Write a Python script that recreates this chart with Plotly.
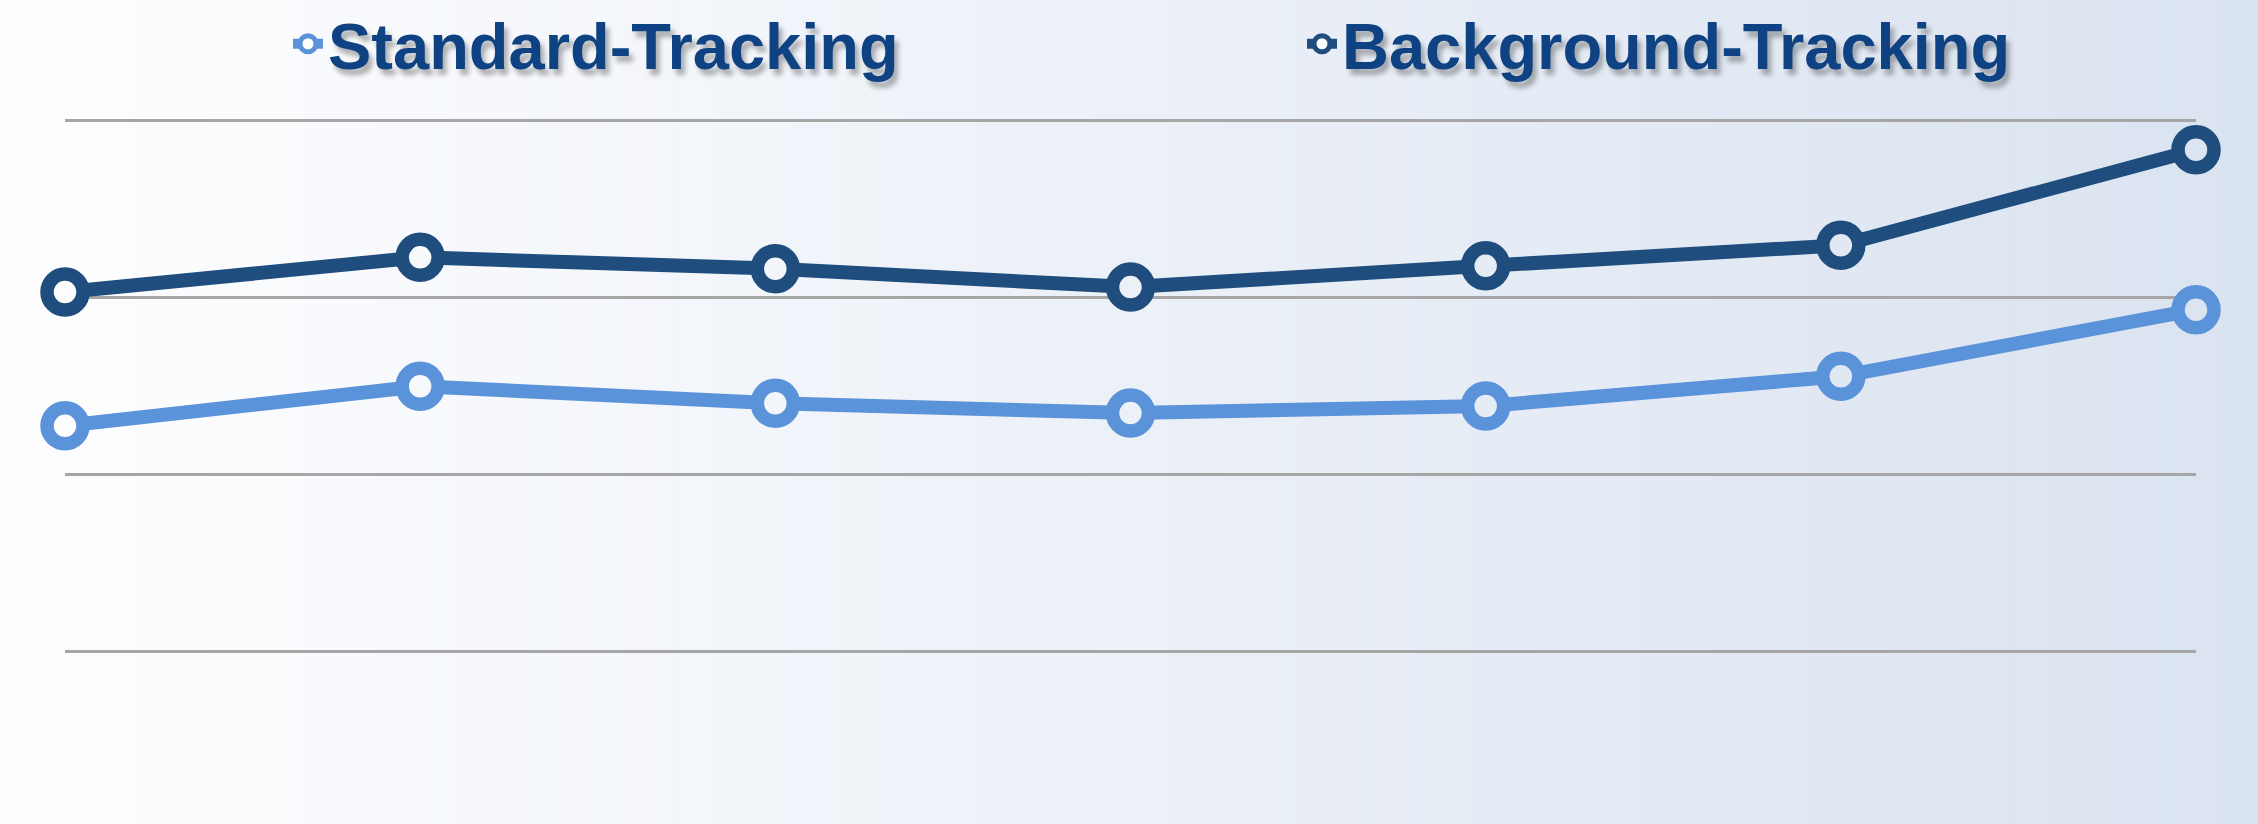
import plotly.graph_objects as go

# ---- data ----
categories = ["1", "2", "3", "4", "5", "6", "7"]
standard_tracking = [56.8, 62.4, 60.0, 58.6, 59.6, 63.8, 73.2]
background_tracking = [75.7, 80.6, 79.0, 76.4, 79.4, 82.3, 95.8]
series_names = ["Standard-Tracking", "Background-Tracking"]

W, H = 2258, 824
ML, MR, MT, MB = 65, 62, 110, 0
PXU = 7.08  # pixels per value unit
PW = W - ML - MR

LIGHT = "#5A93D9"
DARK = "#1F4E7E"
TEXT = "#0E4282"

c0 = (254, 254, 255)
c1 = (218, 227, 240)


def grad(t):
    t = max(0.0, min(1.0, t))
    return "rgb(%d,%d,%d)" % tuple(round(a + (b - a) * t) for a, b in zip(c0, c1))


def fill_for_index(i):
    px = ML + PW * i / (len(categories) - 1)
    return grad(px / W)


fills = [fill_for_index(i) for i in range(len(categories))]

fig = go.Figure()
for name, vals, col, lg in [(series_names[0], standard_tracking, LIGHT, "legend"),
                            (series_names[1], background_tracking, DARK, "legend2")]:
    fig.add_trace(go.Scatter(
        x=categories, y=vals, name=name, mode="lines+markers",
        line=dict(color=col, width=14),
        marker=dict(symbol="circle", size=36, color=fills,
                    line=dict(color=col, width=13.5)),
        cliponaxis=False, legend=lg,
    ))

N = 120
shapes = []
for k in range(N):
    shapes.append(dict(type="rect", xref="paper", yref="paper",
                       x0=(k / N) * W / PW - ML / PW,
                       x1=((k + 1) / N) * W / PW - ML / PW + 0.001,
                       y0=-0.1, y1=1.3, line=dict(width=0),
                       fillcolor=grad((k + 0.5) / N), layer="below"))

r_top = 100 + (120 - MT) / PXU
r_bot = (828 - 824) / PXU

legend_font = dict(family="Liberation Sans, Arial, sans-serif",
                   size=65, color=TEXT, weight="bold",
                   shadow="4px 6px 5px rgba(0,0,0,0.3)")
leg_y = (H - 44) / (H - MT - MB)


def legend_at(px):
    return dict(orientation="h", xref="paper", yref="paper",
                x=(px - ML) / PW, xanchor="left", y=leg_y, yanchor="middle",
                font=legend_font, bgcolor="rgba(0,0,0,0)", borderwidth=0,
                itemsizing="trace")


fig.update_layout(
    width=W, height=H,
    margin=dict(l=ML, r=MR, t=MT, b=MB, pad=0, autoexpand=False),
    paper_bgcolor="rgba(0,0,0,0)",
    plot_bgcolor="rgba(0,0,0,0)",
    shapes=shapes,
    showlegend=True,
    legend=legend_at(288),
    legend2=legend_at(1302),
    xaxis=dict(range=[0, 6], showgrid=False, zeroline=False, showticklabels=False,
               showline=False, ticks=""),
    yaxis=dict(range=[r_bot, r_top], dtick=25, tick0=0, showgrid=True,
               gridcolor="#A6A6A6", gridwidth=3, zeroline=False,
               showticklabels=False, showline=False, ticks=""),
)

fig.write_html("out.html", config={"displayModeBar": False},
               post_script="document.body.style.margin='0';")
